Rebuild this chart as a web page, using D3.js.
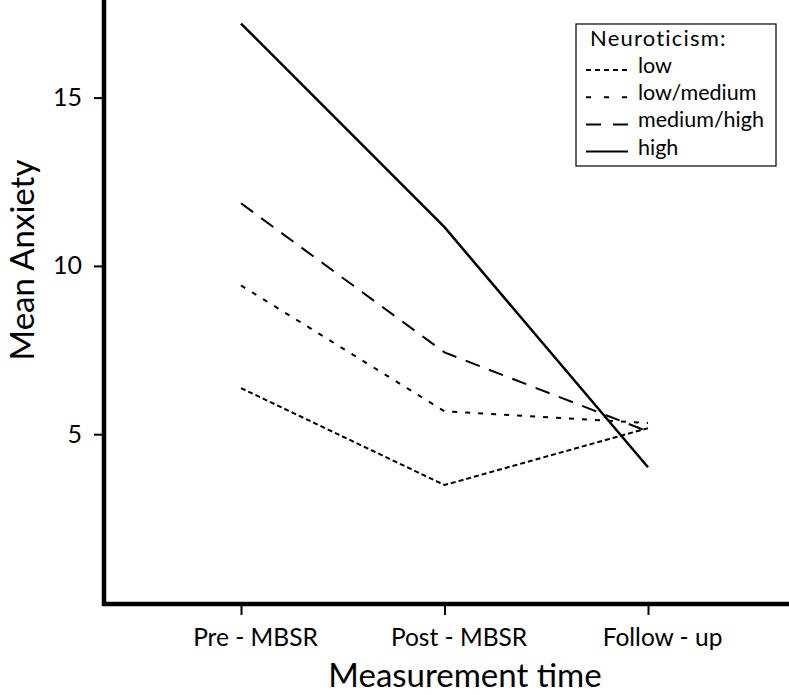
<!DOCTYPE html>
<html><head><meta charset="utf-8">
<script src="https://cdn.jsdelivr.net/npm/d3@7"></script>
<style>body{margin:0;background:#fff}svg{display:block}text{font-family:Lato,"Open Sans",sans-serif;fill:#000}</style>
</head><body>
<svg id="chart" width="789" height="695"></svg>
<script>
const times = ["Pre - MBSR", "Post - MBSR", "Follow - up"];
const low = [6.37, 3.49, 5.18];
const lowMedium = [9.42, 5.68, 5.33];
const mediumHigh = [11.86, 7.43, 5.08];
const high = [17.2, 11.15, 4.02];
const seriesNames = ["low", "low/medium", "medium/high", "high"];
const yTicks = [5, 10, 15];

const series = [
  {name: seriesNames[0], values: low, dash: "5,3", legendDash: "5,4", w: 2},
  {name: seriesNames[1], values: lowMedium, dash: "5,8", legendDash: "5,13", w: 2},
  {name: seriesNames[2], values: mediumHigh, dash: "15,10", legendDash: "15,12", w: 2},
  {name: seriesNames[3], values: high, dash: null, legendDash: null, w: 2.5}
];

const svg = d3.select("#chart");
const mLeft = 104, mBottom = 604, mRight = 789;
const x = d3.scalePoint().domain(times).range([241, 648]);
const y = d3.scaleLinear().domain([0, 17.9]).range([602.5, 0]);

// axes
const yAxis = d3.axisLeft(y).tickValues(yTicks).tickSize(10).tickPadding(12);
const gy = svg.append("g").attr("transform", `translate(${mLeft},0)`).call(yAxis);
gy.select(".domain").remove();
gy.selectAll(".tick line").attr("stroke-width", 2);
gy.selectAll(".tick text").style("font-size", "25px").attr("fill", "#000");
svg.append("line").attr("x1", mLeft).attr("x2", mLeft).attr("y1", 0).attr("y2", mBottom + 2)
  .attr("stroke", "#000").attr("stroke-width", 4.5);

const xAxis = d3.axisBottom(x).tickSize(11).tickPadding(14);
const gx = svg.append("g").attr("transform", `translate(0,${mBottom})`).call(xAxis);
gx.select(".domain").remove();
gx.selectAll(".tick line").attr("stroke-width", 2);
gx.selectAll(".tick text").style("font-size", "24.5px").attr("fill", "#000").attr("dx", 14);
svg.append("line").attr("x1", mLeft - 2).attr("x2", mRight).attr("y1", mBottom).attr("y2", mBottom)
  .attr("stroke", "#000").attr("stroke-width", 4.5);

// lines
const line = d3.line().x((d, i) => x(times[i])).y(d => y(d));
series.forEach(s => {
  svg.append("path").attr("d", line(s.values)).attr("fill", "none")
    .attr("stroke", "#000").attr("stroke-width", s.w)
    .attr("stroke-dasharray", s.dash);
});

// titles
svg.append("text").attr("x", 465).attr("y", 687).attr("text-anchor", "middle")
  .style("font-size", "33px").text("Measurement time");
svg.append("text").attr("transform", "translate(34,260) rotate(-90)").attr("text-anchor", "middle")
  .style("font-size", "33px").text("Mean Anxiety");

// legend
const lg = svg.append("g");
lg.append("rect").attr("x", 576).attr("y", 24).attr("width", 200).attr("height", 142)
  .attr("fill", "#fff").attr("stroke", "#000").attr("stroke-width", 1.2);
lg.append("text").attr("x", 590).attr("y", 46).style("font-size", "22px")
  .style("letter-spacing", "1.2px").text("Neuroticism:");
series.forEach((s, i) => {
  const yy = 73 + i * 27.2;
  lg.append("line").attr("x1", 586).attr("x2", 628).attr("y1", yy - 3).attr("y2", yy - 3)
    .attr("stroke", "#000").attr("stroke-width", 2).attr("stroke-dasharray", s.legendDash);
  lg.append("text").attr("x", 638).attr("y", yy).style("font-size", "21.5px").text(s.name);
});
</script>
</body></html>
